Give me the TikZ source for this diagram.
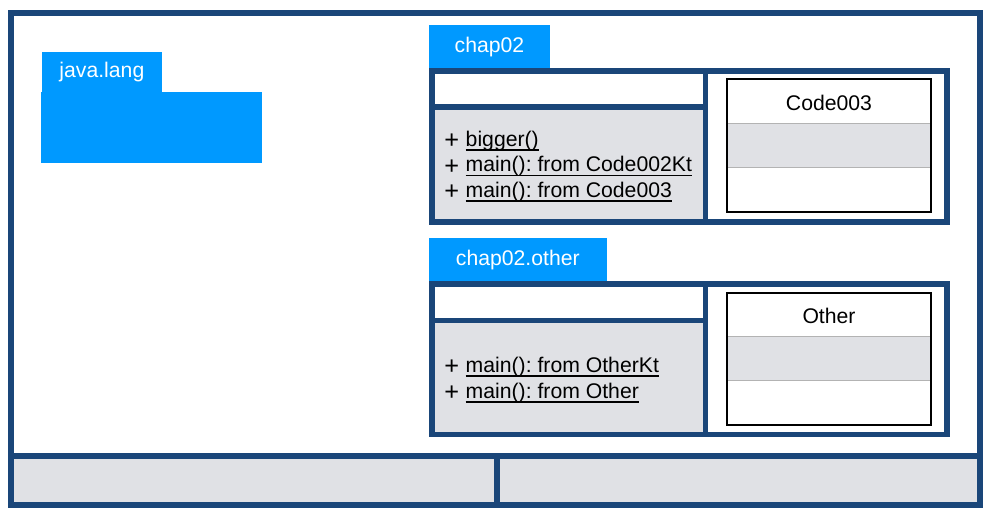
\documentclass[tikz,border=0pt]{standalone}
\usepackage{fontspec}
\setmainfont{Liberation Sans}
\frenchspacing
\newcommand{\opuline}[1]{\setbox0\hbox{#1}\rlap{\rule[-3.4pt]{\wd0}{0.9pt}}\box0}
\newcommand{\opplus}{\raisebox{-2pt}{\fontsize{19}{19}\selectfont+}\hspace{5pt}}
\definecolor{frameblue}{HTML}{1A4679}
\definecolor{tabblue}{HTML}{0099FF}
\definecolor{cellgray}{HTML}{E0E1E5}
\definecolor{rulegray}{HTML}{B3B3B3}

\begin{document}
\begin{tikzpicture}[x=0.75pt, y=-0.75pt, font=\fontsize{15.9}{19}\selectfont,
  frame/.style={draw=frameblue, line width=4.5pt},
  pkg/.style={draw=frameblue, line width=4.1pt},
  cls/.style={draw=black, line width=1.5pt},
  rule/.style={draw=rulegray, line width=1.1pt},
  tablabel/.style={text=white, inner sep=0pt},
  op/.style={anchor=base west, inner sep=0pt}]
 \useasboundingbox (0,0) rectangle (991,517);
 \draw[frame, fill=white] (11,12.7) rectangle (980,504.9);
 \draw[frame, fill=cellgray] (11,455.9) rectangle (496.9,504.9);
 \draw[frame, fill=cellgray] (496.9,455.9) rectangle (980,504.9);

 \fill[tabblue] (41.7,52) rectangle (162,92.5);
 \fill[tabblue] (41,92) rectangle (262,162.7);
 \node[tablabel] (javalang) at (101.9,72) {java.lang};

 \fill[tabblue] (429,25) rectangle (550,68.3);
 \node[tablabel] (chap02) at (489.5,46.7) {chap02};
 \draw[pkg, fill=white] (431.8,71) rectangle (705.7,107);
 \draw[pkg, fill=cellgray] (431.8,107) rectangle (705.7,221.9);
 \draw[pkg, fill=white] (705.7,71) rectangle (947,221.9);
 \fill[cellgray] (726.7,123.3) rectangle (931.3,167.7);
 \draw[rule] (726.7,123.3) -- (931.3,123.3) (726.7,167.7) -- (931.3,167.7);
 \draw[cls] (726.7,79.3) rectangle (931.3,212.3);
 \node (code003) at (829,102.5) {Code003};
 \node[op] (bigger) at (444,146) {\opplus\opuline{bigger()}};
 \node[op] (maincodekt) at (444,171.5) {\opplus\opuline{main(): from Code002Kt}};
 \node[op] (maincode) at (444,197) {\opplus\opuline{main(): from Code003}};

 \fill[tabblue] (429,238.3) rectangle (606.7,281);
 \node[tablabel] (chap02other) at (517.8,259.7) {chap02.other};
 \draw[pkg, fill=white] (431.8,283.9) rectangle (705.7,320.3);
 \draw[pkg, fill=cellgray] (431.8,320.3) rectangle (705.7,434.7);
 \draw[pkg, fill=white] (705.7,283.9) rectangle (947,434.7);
 \fill[cellgray] (726.7,336.7) rectangle (931.3,380.7);
 \draw[rule] (726.7,336.7) -- (931.3,336.7) (726.7,380.7) -- (931.3,380.7);
 \draw[cls] (726.7,292.7) rectangle (931.3,425.3);
 \node (other) at (829,315.7) {Other};
 \node[op] (mainotherkt) at (444,372) {\opplus\opuline{main(): from OtherKt}};
 \node[op] (mainother) at (444,398) {\opplus\opuline{main(): from Other}};
\end{tikzpicture}
\end{document}
